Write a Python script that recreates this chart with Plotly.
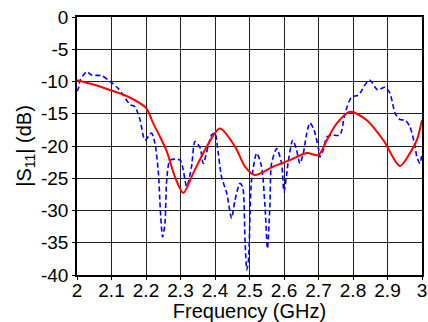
import plotly.graph_objects as go

red_f = [2.0, 2.05, 2.1, 2.15, 2.2, 2.221, 2.241, 2.26, 2.284, 2.308, 2.337, 2.376, 2.414,
         2.458, 2.487, 2.515, 2.569, 2.617, 2.666, 2.70, 2.724, 2.753, 2.791, 2.84, 2.888,
         2.936, 2.965, 2.985, 3.0]
red_db = [-9.8, -10.5, -11.4, -12.4, -14.1, -16.5, -18.6, -20.8, -24.8, -27.3, -24.2, -20.1, -17.3,
          -20.1, -23.2, -24.5, -23.2, -22.2, -21.1, -21.4, -19.1, -16.5, -14.7, -16.0, -19.1,
          -23.1, -21.1, -19.1, -16.0]

blue_f = [2.000, 2.004, 2.009, 2.028, 2.042, 2.072, 2.096, 2.12, 2.134, 2.154, 2.168, 2.183,
          2.197, 2.216, 2.226, 2.236, 2.241, 2.248, 2.255, 2.26, 2.27, 2.299, 2.318, 2.332,
          2.342, 2.357, 2.366, 2.39, 2.40, 2.407, 2.419, 2.434, 2.448, 2.458, 2.472, 2.48,
          2.487, 2.492, 2.497, 2.506, 2.521, 2.535, 2.545, 2.552, 2.559, 2.564, 2.579, 2.593,
          2.60, 2.613, 2.625, 2.635, 2.646, 2.656, 2.666, 2.675, 2.687, 2.70, 2.704, 2.714,
          2.724, 2.738, 2.762, 2.777, 2.796, 2.816, 2.835, 2.849, 2.871, 2.893, 2.907, 2.922,
          2.936, 2.951, 2.965, 2.98, 2.985, 2.994, 3.0]
blue_db = [-11.5, -11.1, -9.8, -8.5, -9.0, -9.1, -10.0, -11.1, -12.1, -13.6, -13.9, -16.0,
           -19.1, -18.0, -19.6, -24.2, -29.4, -34.1, -32.0, -25.3, -22.2, -22.2, -26.3, -23.2,
           -19.3, -20.3, -22.7, -18.3, -18.0, -20.1, -24.8, -27.3, -31.2, -28.4, -25.8, -26.3,
           -34.6, -39.2, -37.7, -25.3, -21.1, -23.2, -29.4, -35.9, -29.4, -22.7, -20.4, -22.7,
           -27.1, -22.2, -19.1, -20.3, -22.7, -21.1, -18.0, -16.4, -17.5, -20.4, -21.7, -20.6,
           -18.6, -18.3, -18.3, -14.9, -12.4, -12.1, -10.5, -9.8, -11.3, -10.9, -11.8, -14.9,
           -15.9, -16.0, -17.0, -20.1, -21.7, -22.7, -21.1]

x_ticks = [2.0, 2.1, 2.2, 2.3, 2.4, 2.5, 2.6, 2.7, 2.8, 2.9, 3.0]
x_labels = ["2", "2.1", "2.2", "2.3", "2.4", "2.5", "2.6", "2.7", "2.8", "2.9", "3"]
y_ticks = [0, -5, -10, -15, -20, -25, -30, -35, -40]
y_labels = ["0", "-5", "-10", "-15", "-20", "-25", "-30", "-35", "-40"]

fig = go.Figure()
fig.add_trace(go.Scatter(x=blue_f, y=blue_db, mode="lines",
                         line=dict(color="#0000ff", width=1.6, dash="5px,3px",
                                   shape="spline", smoothing=0.7),
                         showlegend=False))
fig.add_trace(go.Scatter(x=red_f, y=red_db, mode="lines",
                         line=dict(color="#ff0000", width=2, shape="spline", smoothing=0.8),
                         showlegend=False))

font = dict(family="Liberation Sans, Arial, sans-serif", color="black")
fig.update_layout(
    width=428, height=322,
    margin=dict(l=77, r=6, t=17, b=47),
    paper_bgcolor="white", plot_bgcolor="white",
    font=dict(size=19, **font),
    xaxis=dict(range=[2, 3], tickvals=x_ticks, ticktext=x_labels,
               showgrid=True, gridcolor="#222222", gridwidth=1,
               showline=True, linecolor="black", linewidth=1.5, mirror=True,
               ticks="outside", ticklen=3, tickcolor="black",
               tickfont=dict(size=19, **font), automargin=False,
               ticklabelstandoff=-6,
               title=dict(text="Frequency (GHz)", font=dict(size=20, **font), standoff=0),
               zeroline=False),
    yaxis=dict(range=[-40, 0], tickvals=y_ticks, ticktext=y_labels,
               showgrid=True, gridcolor="#222222", gridwidth=1,
               showline=True, linecolor="black", linewidth=1.5, mirror=True,
               ticks="outside", ticklen=3, tickcolor="black",
               tickfont=dict(size=19, **font), automargin=False,
               title=dict(text="|S<sub>11</sub>| (dB)", font=dict(size=20, **font), standoff=4),
               zeroline=False),
)
fig.write_html("out.html", config={"displayModeBar": False},
               post_script="document.body.style.margin='0';document.body.style.overflow='hidden';")
